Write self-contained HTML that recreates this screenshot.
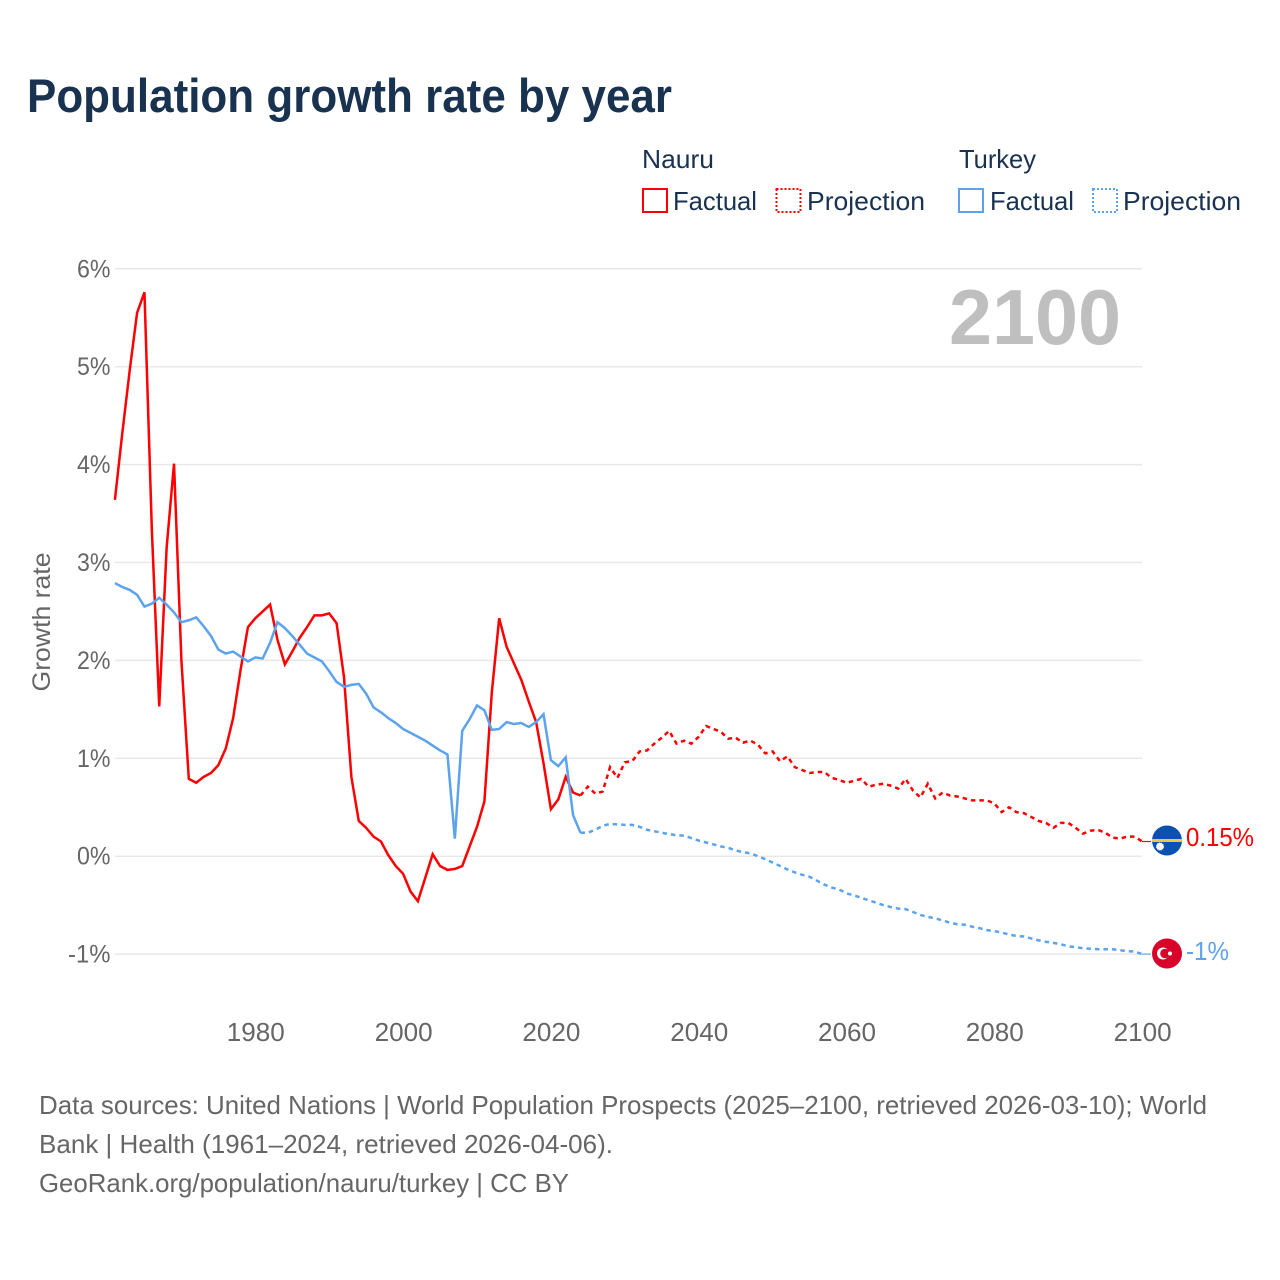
<!DOCTYPE html>
<html lang="en">
<head>
<meta charset="utf-8">
<title>Population growth rate by year</title>
<style>
html,body{margin:0;padding:0;background:#fff;}
svg{display:block;font-family:"Liberation Sans",Arial,sans-serif;}
</style>
</head>
<body>
<svg id="chart" width="1280" height="1280" viewBox="0 0 1280 1280" xmlns="http://www.w3.org/2000/svg">
  <rect width="1280" height="1280" fill="#fff"/>
  <text x="27" y="112" font-size="47" font-weight="700" fill="#18324f" textLength="645" lengthAdjust="spacingAndGlyphs">Population growth rate by year</text>

  <g font-size="26" fill="#18324f">
    <text x="642" y="168" textLength="72" lengthAdjust="spacingAndGlyphs">Nauru</text>
    <text x="959" y="168" textLength="77" lengthAdjust="spacingAndGlyphs">Turkey</text>
    <rect x="643" y="189" width="24" height="23" fill="none" stroke="#ff0000" stroke-width="2"/>
    <text x="673" y="210" textLength="84" lengthAdjust="spacingAndGlyphs">Factual</text>
    <rect x="776.5" y="189" width="24" height="23" fill="none" stroke="#ff0000" stroke-width="2" stroke-dasharray="2 2"/>
    <text x="807" y="210" textLength="118" lengthAdjust="spacingAndGlyphs">Projection</text>
    <rect x="959" y="189" width="24" height="23" fill="none" stroke="#5ba3ec" stroke-width="2"/>
    <text x="990" y="210" textLength="84" lengthAdjust="spacingAndGlyphs">Factual</text>
    <rect x="1093" y="189" width="24" height="23" fill="none" stroke="#5ba3ec" stroke-width="2" stroke-dasharray="2 2"/>
    <text x="1123" y="210" textLength="118" lengthAdjust="spacingAndGlyphs">Projection</text>
  </g>

  <g id="grid"></g>
  <g id="yticks"></g>
  <g id="xticks"></g>

  <text transform="translate(50 622) rotate(-90)" text-anchor="middle" font-size="25" fill="#666" textLength="139" lengthAdjust="spacingAndGlyphs">Growth rate</text>

  <text x="949" y="344" font-size="78" font-weight="700" fill="#bfbfbf" textLength="172" lengthAdjust="spacingAndGlyphs">2100</text>

  <g id="series"></g>

  <g>
    <clipPath id="clip-nauru"><circle cx="1167" cy="840.5" r="15"/></clipPath>
    <g clip-path="url(#clip-nauru)">
      <rect x="1150" y="824" width="34" height="34" fill="#0b52b0"/>
      <rect x="1150" y="839" width="34" height="3" fill="#f7c53c"/>
      <circle cx="1160" cy="846.5" r="3.6" fill="#fff" stroke="#fff" stroke-width="1" stroke-dasharray="1 1"/>
    </g>
  </g>
  <text x="1186" y="846" font-size="26" fill="#ff0000" textLength="68" lengthAdjust="spacingAndGlyphs">0.15%</text>

  <g>
    <circle cx="1167" cy="953.5" r="15" fill="#d9022b"/>
    <circle cx="1163" cy="953.5" r="6" fill="#fff"/>
    <circle cx="1165" cy="953.5" r="4.8" fill="#d9022b"/>
    <circle cx="1170" cy="953.5" r="2" fill="#fff"/>
  </g>
  <text x="1186" y="960" font-size="26" fill="#5ba3ec" textLength="43" lengthAdjust="spacingAndGlyphs">-1%</text>

  <g font-size="26" fill="#666">
    <text x="39" y="1114" textLength="1168" lengthAdjust="spacingAndGlyphs">Data sources: United Nations | World Population Prospects (2025–2100, retrieved 2026-03-10); World</text>
    <text x="39" y="1153" textLength="574" lengthAdjust="spacingAndGlyphs">Bank | Health (1961–2024, retrieved 2026-04-06).</text>
    <text x="39" y="1192" textLength="530" lengthAdjust="spacingAndGlyphs">GeoRank.org/population/nauru/turkey | CC BY</text>
  </g>
</svg>
<script>
const yTickValues = [-1, 0, 1, 2, 3, 4, 5, 6];
const yTickLabels = ["-1%", "0%", "1%", "2%", "3%", "4%", "5%", "6%"];
const xTickValues = [1980, 2000, 2020, 2040, 2060, 2080, 2100];
const xTickLabels = ["1980", "2000", "2020", "2040", "2060", "2080", "2100"];

const factualStartYear = 1961;
const projectionStartYear = 2024;

const nauruFactual = [3.64,4.32,4.96,5.55,5.76,3.33,1.53,3.15,4.01,2.0,
  0.79,0.75,0.81,0.85,0.93,1.10,1.41,1.90,2.34,2.43,
  2.50,2.57,2.21,1.96,2.09,2.23,2.34,2.46,2.46,2.48,
  2.38,1.83,0.81,0.36,0.29,0.20,0.15,0.01,-0.10,-0.18,
  -0.36,-0.46,-0.22,0.02,-0.10,-0.14,-0.13,-0.10,0.10,0.30,
  0.56,1.67,2.43,2.14,1.97,1.80,1.58,1.37,0.95,0.48,
  0.58,0.81,0.65,0.62];

const turkeyFactual = [2.79,2.75,2.72,2.67,2.55,2.58,2.64,2.57,2.49,2.39,
  2.41,2.44,2.35,2.25,2.11,2.07,2.09,2.04,1.99,2.03,
  2.02,2.18,2.39,2.33,2.25,2.16,2.07,2.03,1.99,1.89,
  1.78,1.73,1.75,1.76,1.66,1.52,1.47,1.41,1.36,1.30,
  1.26,1.22,1.18,1.13,1.08,1.04,0.18,1.28,1.40,1.54,
  1.49,1.29,1.30,1.37,1.35,1.36,1.32,1.37,1.45,0.98,
  0.92,1.01,0.42,0.24];

const nauruProjection = [0.62,0.71,0.64,0.66,0.91,0.80,0.96,0.97,1.07,1.08,1.15,
  1.21,1.28,1.15,1.18,1.15,1.22,1.33,1.30,1.27,1.20,
  1.21,1.16,1.18,1.14,1.05,1.07,0.97,1.02,0.91,0.88,
  0.85,0.86,0.86,0.80,0.78,0.75,0.77,0.79,0.71,0.73,
  0.74,0.72,0.69,0.79,0.67,0.60,0.74,0.59,0.65,0.62,
  0.61,0.59,0.57,0.57,0.57,0.54,0.45,0.50,0.45,0.44,
  0.40,0.36,0.34,0.29,0.34,0.34,0.29,0.23,0.26,0.27,
  0.24,0.19,0.18,0.20,0.20,0.15];

const turkeyProjection = [0.24,0.24,0.27,0.31,0.33,0.325,0.32,0.32,0.30,0.27,0.255,
  0.24,0.225,0.215,0.21,0.185,0.16,0.14,0.12,0.10,0.085,
  0.06,0.04,0.03,0.00,-0.03,-0.065,-0.10,-0.135,-0.165,-0.19,
  -0.21,-0.25,-0.29,-0.32,-0.34,-0.38,-0.40,-0.425,-0.45,-0.475,
  -0.50,-0.52,-0.535,-0.54,-0.57,-0.60,-0.62,-0.635,-0.655,-0.68,
  -0.695,-0.70,-0.72,-0.735,-0.755,-0.765,-0.78,-0.80,-0.815,-0.82,
  -0.84,-0.86,-0.875,-0.885,-0.90,-0.92,-0.93,-0.94,-0.945,-0.95,
  -0.95,-0.95,-0.96,-0.97,-0.975,-1.0];

const NS = "http://www.w3.org/2000/svg";
const plotLeft = 115, plotRight = 1142;

function xScale(year) { return 114.9 + (year - 1961) * 7.39; }
function yScale(value) { return 856.2 - value * 97.9; }

function make(tag, attrs, parent) {
  const el = document.createElementNS(NS, tag);
  for (const k in attrs) el.setAttribute(k, attrs[k]);
  parent.appendChild(el);
  return el;
}

const gridGroup = document.getElementById("grid");
const yTickGroup = document.getElementById("yticks");
const xTickGroup = document.getElementById("xticks");
const seriesGroup = document.getElementById("series");

yTickValues.forEach(function (v, i) {
  const line = make("line", {x1: plotLeft, x2: plotRight, y1: yScale(v), y2: yScale(v), stroke: "#e8e8e8", "stroke-width": 1.5}, gridGroup);
  
  
  const label = make("text", {x: 110.5, y: yScale(v) + 8.5, "text-anchor": "end", "font-size": 25, fill: "#666", textLength: yTickLabels[i].length * 9 + 15.5, lengthAdjust: "spacingAndGlyphs"}, yTickGroup);
  
  
  label.textContent = yTickLabels[i];
});

xTickValues.forEach(function (v, i) {
  const label = make("text", {x: xScale(v) + 0.5, y: 1041, "text-anchor": "middle", "font-size": 25.5, fill: "#666", textLength: 58, lengthAdjust: "spacingAndGlyphs"}, xTickGroup);
  
  
  label.textContent = xTickLabels[i];
});

function linePoints(values, startYear) {
  return values.map(function (v, i) {
    return xScale(startYear + i).toFixed(2) + "," + yScale(v).toFixed(2);
  }).join(" ");
}

function connector(values, color, name) {
  const last = values[values.length - 1];
  const el = make("line", {x1: plotRight, x2: 1151, y1: yScale(last), y2: yScale(last), stroke: color, "stroke-width": 1.2}, seriesGroup);
  
  
}

const turkeyProjectionLine = make("polyline", {points: linePoints(turkeyProjection, projectionStartYear), fill: "none", stroke: "#5ba3ec", "stroke-width": 2.5, "stroke-dasharray": "4.5 4"}, seriesGroup);



const nauruProjectionLine = make("polyline", {points: linePoints(nauruProjection, projectionStartYear), fill: "none", stroke: "#ff0000", "stroke-width": 2.5, "stroke-dasharray": "4.5 4"}, seriesGroup);



const nauruFactualLine = make("polyline", {points: linePoints(nauruFactual, factualStartYear), fill: "none", stroke: "#ff0000", "stroke-width": 2.5, "stroke-linejoin": "miter"}, seriesGroup);



const turkeyFactualLine = make("polyline", {points: linePoints(turkeyFactual, factualStartYear), fill: "none", stroke: "#5ba3ec", "stroke-width": 2.5, "stroke-linejoin": "miter"}, seriesGroup);



connector(nauruProjection, "#ff0000", "nauru-marker-connector");
connector(turkeyProjection, "#5ba3ec", "turkey-marker-connector");
</script>
</body>
</html>
